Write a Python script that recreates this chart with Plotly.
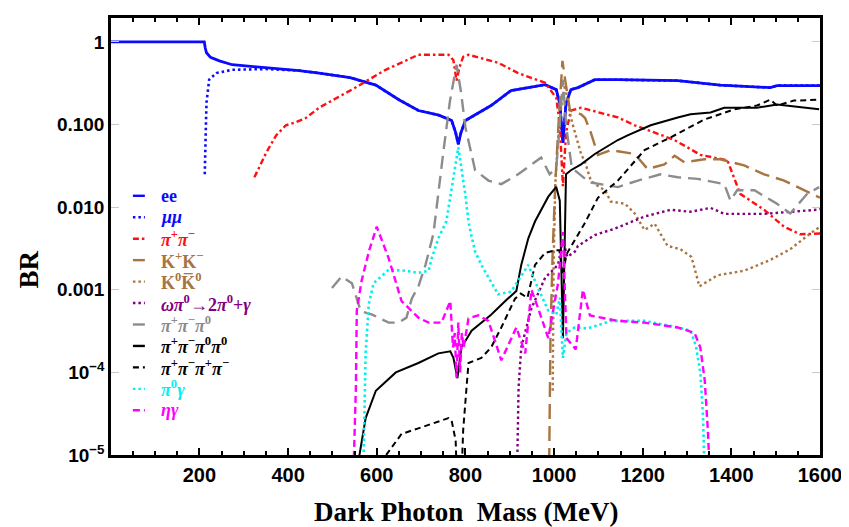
import plotly.graph_objects as go

# ---------------- data ----------------
mass_ee = [0, 211, 213, 216, 225, 245, 274, 350, 425, 470, 540, 598, 650, 694, 740, 769, 778, 784, 790, 800, 858, 903, 980, 1005, 1013, 1020, 1027, 1038, 1054, 1092, 1144, 1279, 1375, 1488, 1503, 1600]
br_ee = [1.0, 1.0, 0.85, 0.74, 0.65, 0.59, 0.53, 0.49, 0.45, 0.42, 0.37, 0.30, 0.20, 0.148, 0.13, 0.112, 0.08, 0.058, 0.08, 0.112, 0.17, 0.258, 0.304, 0.265, 0.18, 0.06, 0.18, 0.265, 0.28, 0.349, 0.349, 0.34, 0.30, 0.28, 0.296, 0.296]

mass_mm = [212, 213, 215, 216, 222, 238, 274, 350, 425, 470, 540, 598, 650, 694, 740, 769, 778, 784, 790, 800, 858, 903, 980, 1005, 1013, 1020, 1027, 1038, 1054, 1092, 1144, 1279, 1375, 1488, 1503, 1600]
br_mm = [0.025, 0.06, 0.12, 0.185, 0.35, 0.42, 0.46, 0.47, 0.45, 0.42, 0.37, 0.30, 0.20, 0.148, 0.13, 0.112, 0.08, 0.058, 0.08, 0.112, 0.17, 0.258, 0.304, 0.265, 0.18, 0.06, 0.18, 0.265, 0.28, 0.349, 0.349, 0.34, 0.30, 0.28, 0.296, 0.296]

mass_pipi = [324, 351, 373, 395, 418, 440, 470, 544, 620, 694, 762, 773, 780, 787, 795, 807, 874, 919, 980, 1005, 1013, 1020, 1027, 1038, 1061, 1099, 1144, 1182, 1272, 1330, 1391, 1420, 1474, 1519, 1555, 1600]
br_pipi = [0.023, 0.046, 0.074, 0.098, 0.107, 0.12, 0.16, 0.265, 0.46, 0.70, 0.70, 0.6, 0.34, 0.5, 0.66, 0.70, 0.56, 0.42, 0.32, 0.21, 0.1, 0.018, 0.08, 0.148, 0.16, 0.14, 0.122, 0.098, 0.065, 0.043, 0.037, 0.0145, 0.0093, 0.0058, 0.0047, 0.0048]

mass_kk = [989, 992, 997, 1003, 1010, 1015, 1019, 1025, 1036, 1061, 1070, 1083, 1099, 1128, 1182, 1211, 1249, 1272, 1294, 1339, 1375, 1429, 1474, 1519, 1564, 1600]
br_kk = [8e-6, 3e-4, 0.003, 0.02, 0.1, 0.3, 0.59, 0.35, 0.148, 0.133, 0.12, 0.08, 0.043, 0.049, 0.044, 0.029, 0.033, 0.042, 0.035, 0.038, 0.038, 0.032, 0.025, 0.021, 0.016, 0.013]

mass_k0 = [997, 999, 1003, 1010, 1018, 1025, 1030, 1038, 1061, 1070, 1083, 1099, 1115, 1128, 1160, 1182, 1204, 1227, 1256, 1285, 1310, 1328, 1369, 1429, 1488, 1533, 1578, 1600]
br_k0 = [6e-5, 0.002, 0.02, 0.08, 0.2, 0.3, 0.2, 0.12, 0.044, 0.035, 0.021, 0.018, 0.016, 0.0117, 0.011, 0.0084, 0.0053, 0.0063, 0.0034, 0.0031, 0.0025, 0.0011, 0.0015, 0.0017, 0.0023, 0.0031, 0.0048, 0.0058]

mass_om = [917, 920, 926, 949, 980, 1009, 1020, 1030, 1047, 1054, 1092, 1137, 1204, 1263, 1308, 1353, 1384, 1474, 1593, 1600]
br_om = [8e-6, 6.6e-5, 2e-4, 6e-4, 1.4e-3, 2e-3, 4e-3, 2.5e-3, 2.9e-3, 3.4e-3, 4.6e-3, 5.5e-3, 7.7e-3, 9.3e-3, 8.8e-3, 9.8e-3, 8.3e-3, 8.3e-3, 9.3e-3, 9.5e-3]

mass_3pi = [499, 521, 544, 564, 590, 627, 649, 667, 679, 694, 710, 728, 751, 765, 780, 790, 800, 822, 852, 881, 919, 971, 990, 1005, 1013, 1020, 1027, 1040, 1080, 1144, 1189, 1240, 1279, 1324, 1384, 1398, 1413, 1452, 1503, 1533, 1571, 1598]
br_3pi = [0.00105, 0.00145, 0.0012, 0.00055, 0.0005, 0.0004, 0.0004, 0.00046, 0.00078, 0.0011, 0.002, 0.0048, 0.05, 0.19, 0.53, 0.25, 0.093, 0.028, 0.021, 0.019, 0.025, 0.04, 0.025, 0.03, 0.1, 0.35, 0.1, 0.03, 0.02, 0.0175, 0.021, 0.025, 0.023, 0.022, 0.019, 0.012, 0.016, 0.016, 0.011, 0.0084, 0.0145, 0.0175]

mass_4pi0 = [558, 575, 598, 643, 694, 739, 766, 773, 782, 791, 814, 858, 890, 915, 926, 942, 957, 987, 1005, 1013, 1020, 1027, 1038, 1061, 1092, 1144, 1166, 1218, 1279, 1308, 1353, 1384, 1458, 1503, 1598]
br_4pi0 = [8e-6, 2.8e-5, 6e-5, 1e-4, 1.3e-4, 1.7e-4, 1.8e-4, 1.5e-4, 8.5e-5, 2e-4, 3.2e-4, 5e-4, 7.3e-4, 9.7e-4, 2e-3, 4.2e-3, 6.7e-3, 0.0134, 0.0176, 0.012, 2.6e-4, 0.025, 0.028, 0.033, 0.044, 0.065, 0.074, 0.098, 0.122, 0.133, 0.14, 0.16, 0.16, 0.175, 0.153]

mass_4pi = [608, 656, 694, 762, 769, 778, 781, 791, 795, 800, 807, 836, 858, 881, 912, 925, 940, 957, 980, 1002, 1012, 1020, 1028, 1047, 1070, 1099, 1144, 1204, 1263, 1339, 1407, 1458, 1488, 1503, 1541, 1598]
br_4pi = [8e-6, 1.8e-5, 2.1e-5, 2.8e-5, 2.6e-5, 1.5e-5, 5e-6, 5e-6, 2e-5, 4.6e-5, 1.3e-4, 1.5e-4, 2e-4, 3.5e-4, 7.8e-4, 9e-4, 8e-4, 2e-3, 2.8e-3, 3e-3, 3e-3, 1.5e-3, 2.7e-3, 4e-3, 6.5e-3, 0.013, 0.021, 0.049, 0.07, 0.115, 0.153, 0.17, 0.2, 0.17, 0.195, 0.2]

mass_pig = [570, 575, 582, 593, 627, 665, 694, 717, 724, 739, 757, 769, 784, 800, 807, 814, 822, 836, 860, 874, 903, 942, 964, 987, 1005, 1013, 1020, 1028, 1047, 1076, 1128, 1204, 1279, 1308, 1320, 1330, 1336, 1340]
br_pig = [8e-6, 1.7e-4, 6.7e-4, 0.0012, 0.00175, 0.0017, 0.0016, 0.0017, 0.0024, 0.0042, 0.0067, 0.016, 0.053, 0.014, 0.0067, 0.0044, 0.0029, 0.002, 0.0012, 0.00088, 0.00095, 0.002, 0.00104, 0.00056, 0.0005, 0.0008, 0.00015, 0.0003, 0.00035, 0.00034, 0.00042, 0.00042, 0.00035, 0.00032, 0.00021, 0.0001, 3e-5, 5e-6]

mass_etag = [547, 553, 555, 566, 583, 600, 627, 656, 694, 717, 746, 766, 772, 776, 780, 784, 788, 792, 796, 807, 829, 852, 881, 903, 915, 935, 949, 964, 987, 1009, 1020, 1028, 1049, 1065, 1081, 1144, 1204, 1279, 1317, 1330, 1340, 1347, 1352]
br_etag = [5e-6, 6.6e-5, 5.6e-4, 0.0013, 0.003, 0.0058, 0.0024, 0.00073, 0.00046, 0.0004, 0.0004, 0.00073, 0.0002, 0.0003, 8.6e-5, 0.0004, 1e-4, 0.0003, 0.0002, 0.00045, 0.00049, 0.00042, 0.00014, 0.00026, 0.00035, 0.00017, 0.001, 0.0006, 0.00026, 0.0012, 0.005, 0.00026, 0.00019, 0.001, 0.00049, 0.00042, 0.0004, 0.00035, 0.0003, 0.0002, 8e-5, 2e-5, 5e-6]

y_tick_vals = [1, 0.1, 0.01, 0.001, 1e-4, 1e-5]
y_tick_text = ["1", "0.100", "0.010", "0.001", "10<sup>−4</sup>", "10<sup>−5</sup>"]

legend_labels = [
    "ee",
    "<i>μμ</i>",
    "<i>π</i><sup>+</sup><i>π</i><sup>−</sup>",
    "K<sup>+</sup>K<sup>−</sup>",
    "K<sup>0</sup>K\u0305<sup>0</sup>",
    "<i>ωπ</i><sup>0</sup>→2<i>π</i><sup>0</sup>+<i>γ</i>",
    "<i>π</i><sup>+</sup><i>π</i><sup>−</sup><i>π</i><sup>0</sup>",
    "<i>π</i><sup>+</sup><i>π</i><sup>−</sup><i>π</i><sup>0</sup><i>π</i><sup>0</sup>",
    "<i>π</i><sup>+</sup><i>π</i><sup>−</sup><i>π</i><sup>+</sup><i>π</i><sup>−</sup>",
    "<i>π</i><sup>0</sup><i>γ</i>",
    "<i>ηγ</i>",
]

# ---------------- styles ----------------
BLUE = "#0a0aff"
RED = "#ff1010"
BROWN = "#a87440"
PURPLE = "#800080"
GRAY = "#8c8c8c"
BLACK = "#000000"
CYAN = "#00f0f0"
MAGENTA = "#ff00ff"

series = [
    (mass_ee, br_ee, BLUE, "solid", 2.8),
    (mass_mm, br_mm, BLUE, "2.5px,3px", 2.6),
    (mass_pipi, br_pipi, RED, "6px,3px,2.5px,3px", 2.4),
    (mass_kk, br_kk, BROWN, "15px,7px", 2.4),
    (mass_k0, br_k0, BROWN, "2.5px,3px", 2.4),
    (mass_om, br_om, PURPLE, "2.5px,3px", 2.4),
    (mass_3pi, br_3pi, GRAY, "13px,7px", 2.4),
    (mass_4pi0, br_4pi0, BLACK, "solid", 2.0),
    (mass_4pi, br_4pi, BLACK, "6px,4px", 2.0),
    (mass_pig, br_pig, CYAN, "2.5px,3px", 2.6),
    (mass_etag, br_etag, MAGENTA, "7px,4px", 2.4),
]
draw_order = [1, 0, 2, 3, 4, 5, 6, 7, 8, 9, 10]

fig = go.Figure()
for idx in draw_order:
    xs, ys, col, dash, w = series[idx]
    fig.add_trace(go.Scatter(x=xs, y=ys, mode="lines",
                             line=dict(color=col, dash=dash, width=w),
                             showlegend=False, hoverinfo="skip"))

# the page draws the figure after the default 8px body margin
OFF = 8
W, H = 849 - OFF, 527 - OFF
# plot area in page pixels
L, R, T, B = 111, 823, 15, 455


def px_to_paper(px, py):
    return (px - L) / (R - L), 1 - (py - T) / (B - T)


annotations = []
shapes = []
for i, lab in enumerate(legend_labels):
    _, _, col, dash, w = series[i]
    py = 194 + 21.6 * i
    x0, yy = px_to_paper(133, py)
    x1, _ = px_to_paper(145, py)
    shapes.append(dict(type="line", xref="paper", yref="paper", x0=x0, x1=x1, y0=yy, y1=yy,
                       line=dict(color=col, width=2.4, dash=dash)))
    tx, _ = px_to_paper(159, py)
    annotations.append(dict(text=lab, xref="paper", yref="paper", x=tx, y=yy, xanchor="left",
                            yanchor="middle", showarrow=False,
                            font=dict(family="Liberation Serif", size=18, color=col, weight="bold")))

bx, by = px_to_paper(29, 268)
annotations.append(dict(text="BR", xref="paper", yref="paper", x=bx, y=by, textangle=-90,
                        showarrow=False, xanchor="center", yanchor="middle",
                        font=dict(family="Liberation Serif", size=27, color="black", weight="bold")))
tx, ty = px_to_paper(467, 512)
annotations.append(dict(text="Dark Photon  Mass (MeV)", xref="paper", yref="paper", x=tx, y=ty,
                        showarrow=False, xanchor="center", yanchor="middle",
                        font=dict(family="Liberation Serif", size=27, color="black", weight="bold")))

fig.update_layout(
    width=W, height=H,
    margin=dict(l=L - OFF, r=W - (R - OFF), t=T - OFF, b=H - (B - OFF), pad=0),
    paper_bgcolor="white", plot_bgcolor="white",
    annotations=annotations, shapes=shapes,
    xaxis=dict(range=[0.5, 1600], tickmode="linear", tick0=0, dtick=200,
               ticks="inside", ticklen=7, tickwidth=2, tickcolor="black",
               minor=dict(ticks="inside", dtick=50, tick0=0, ticklen=4, tickwidth=1.5, tickcolor="black"),
               showline=True, linewidth=2.5, linecolor="black", mirror="ticks",
               showgrid=False, zeroline=False, ticklabeloverflow="allow",
               tickfont=dict(family="Liberation Sans", size=20, color="black", weight="bold")),
    yaxis=dict(type="log", range=[-5, 0.29], tickmode="array", tickvals=y_tick_vals, ticktext=y_tick_text,
               ticks="inside", ticklen=8, tickwidth=1, tickcolor="#c8c8c8",
               showline=True, linewidth=2.5, linecolor="black", mirror="ticks",
               showgrid=False, zeroline=False,
               tickfont=dict(family="Liberation Sans", size=19, color="black", weight="bold")),
)

fig.write_html("out.html")
